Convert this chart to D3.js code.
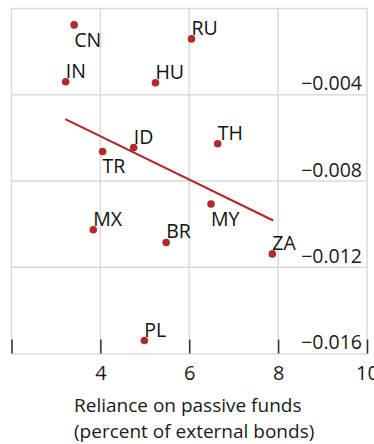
<!DOCTYPE html>
<html><head><meta charset="utf-8">
<script src="https://cdn.jsdelivr.net/npm/d3@7"></script>
<style>
html,body{margin:0;padding:0;background:#fff;}
svg{display:block;font-family:"Open Sans",sans-serif;}
</style></head>
<body><svg id="c" width="374" height="444"></svg>
<script>
const countries = ["CN","RU","IN","HU","TH","ID","TR","MX","BR","MY","ZA","PL"];
const passive   = [3.41, 6.05, 3.22, 5.24, 6.64, 4.75, 4.05, 3.84, 5.48, 6.49, 7.87, 4.99];
const effect    = [-0.00076, -0.00141, -0.00340, -0.00344, -0.00627, -0.00645, -0.00663, -0.01026, -0.01085, -0.00907, -0.01138, -0.01540];
const labelPos  = ["below","above","above","above","above","above","below","above","above","below","above","above"];
const trendX = [3.21, 7.89];
const trendY = [-0.00513, -0.00983];
const xTicks = [2, 4, 6, 8, 10];
const xTickLabels = ["", "4", "6", "8", "10"];
const yTicks = [-0.004, -0.008, -0.012, -0.016];
const xTitle = ["Reliance on passive funds", "(percent of external bonds)"];

const svg = d3.select("#c");
const x = d3.scaleLinear().domain([2, 10]).range([11.5, 367]);
const y = d3.scaleLinear().domain([-0.016, 0]).range([353.5, 8.5]);
const red = "#b0292b";
const grid = "#dadada";

// frame & grid
const g = svg.append("g");
g.selectAll(".vg").data(xTicks).join("line")
  .attr("x1", d=>x(d)).attr("x2", d=>x(d)).attr("y1", y(0)).attr("y2", y(-0.016))
  .attr("stroke", grid).attr("stroke-width",1.5);
g.selectAll(".hg").data([0, ...yTicks.slice(0,-1)]).join("line")
  .attr("x1", x(2)).attr("x2", x(10)).attr("y1", d=>y(d)).attr("y2", d=>y(d))
  .attr("stroke", grid).attr("stroke-width",1.5);

// x axis
const xa = svg.append("g").attr("transform", `translate(0,${y(-0.016)})`)
  .call(d3.axisBottom(x).tickValues(xTicks).tickSize(-14).tickPadding(8)
        .tickFormat((d,i)=>xTickLabels[i]));
xa.select(".domain").attr("stroke", grid).attr("stroke-width",1.5);
xa.selectAll(".tick line").attr("stroke","#333").attr("stroke-width",1.5);
xa.selectAll(".tick text").attr("font-size",20).attr("fill","#1a1a1a")
  .attr("font-family","Open Sans").attr("dy",null).attr("y",26)
  .attr("dominant-baseline","alphabetic");

// y axis labels (right, above gridlines)
const ya = svg.append("g").attr("transform", `translate(362,0)`)
  .call(d3.axisLeft(y).tickValues(yTicks).tickSize(0).tickPadding(0)
        .tickFormat(d => d3.format(".3f")(d).replace("-", "\u2013")));
ya.select(".domain").remove();
ya.selectAll(".tick text").attr("font-size",19.5).attr("fill","#1a1a1a")
  .attr("dy",null).attr("y",-5).attr("font-family","Open Sans");

// trend line
svg.append("path").datum(d3.zip(trendX, trendY))
  .attr("d", d3.line().x(d=>x(d[0])).y(d=>y(d[1])))
  .attr("stroke", red).attr("stroke-width", 2.2).attr("fill","none");

// points
const pts = d3.range(countries.length).map(i => ({c:countries[i], x:passive[i], y:effect[i], p:labelPos[i]}));
svg.selectAll("circle.pt").data(pts).join("circle")
  .attr("cx", d=>x(d.x)).attr("cy", d=>y(d.y)).attr("r", 3.8).attr("fill", red);
svg.selectAll("text.lb").data(pts).join("text")
  .attr("x", d=>x(d.x)).attr("y", d=> d.p==="above" ? y(d.y)-4 : y(d.y)+22)
  .attr("font-size", 19.5).attr("fill","#111").text(d=>d.c);

// x title
svg.selectAll("text.xt").data(xTitle).join("text")
  .attr("x", 74).attr("y", (d,i)=> 412 + i*26)
  .attr("font-size", 19).attr("fill","#1a1a1a").text(d=>d);
</script></body></html>
